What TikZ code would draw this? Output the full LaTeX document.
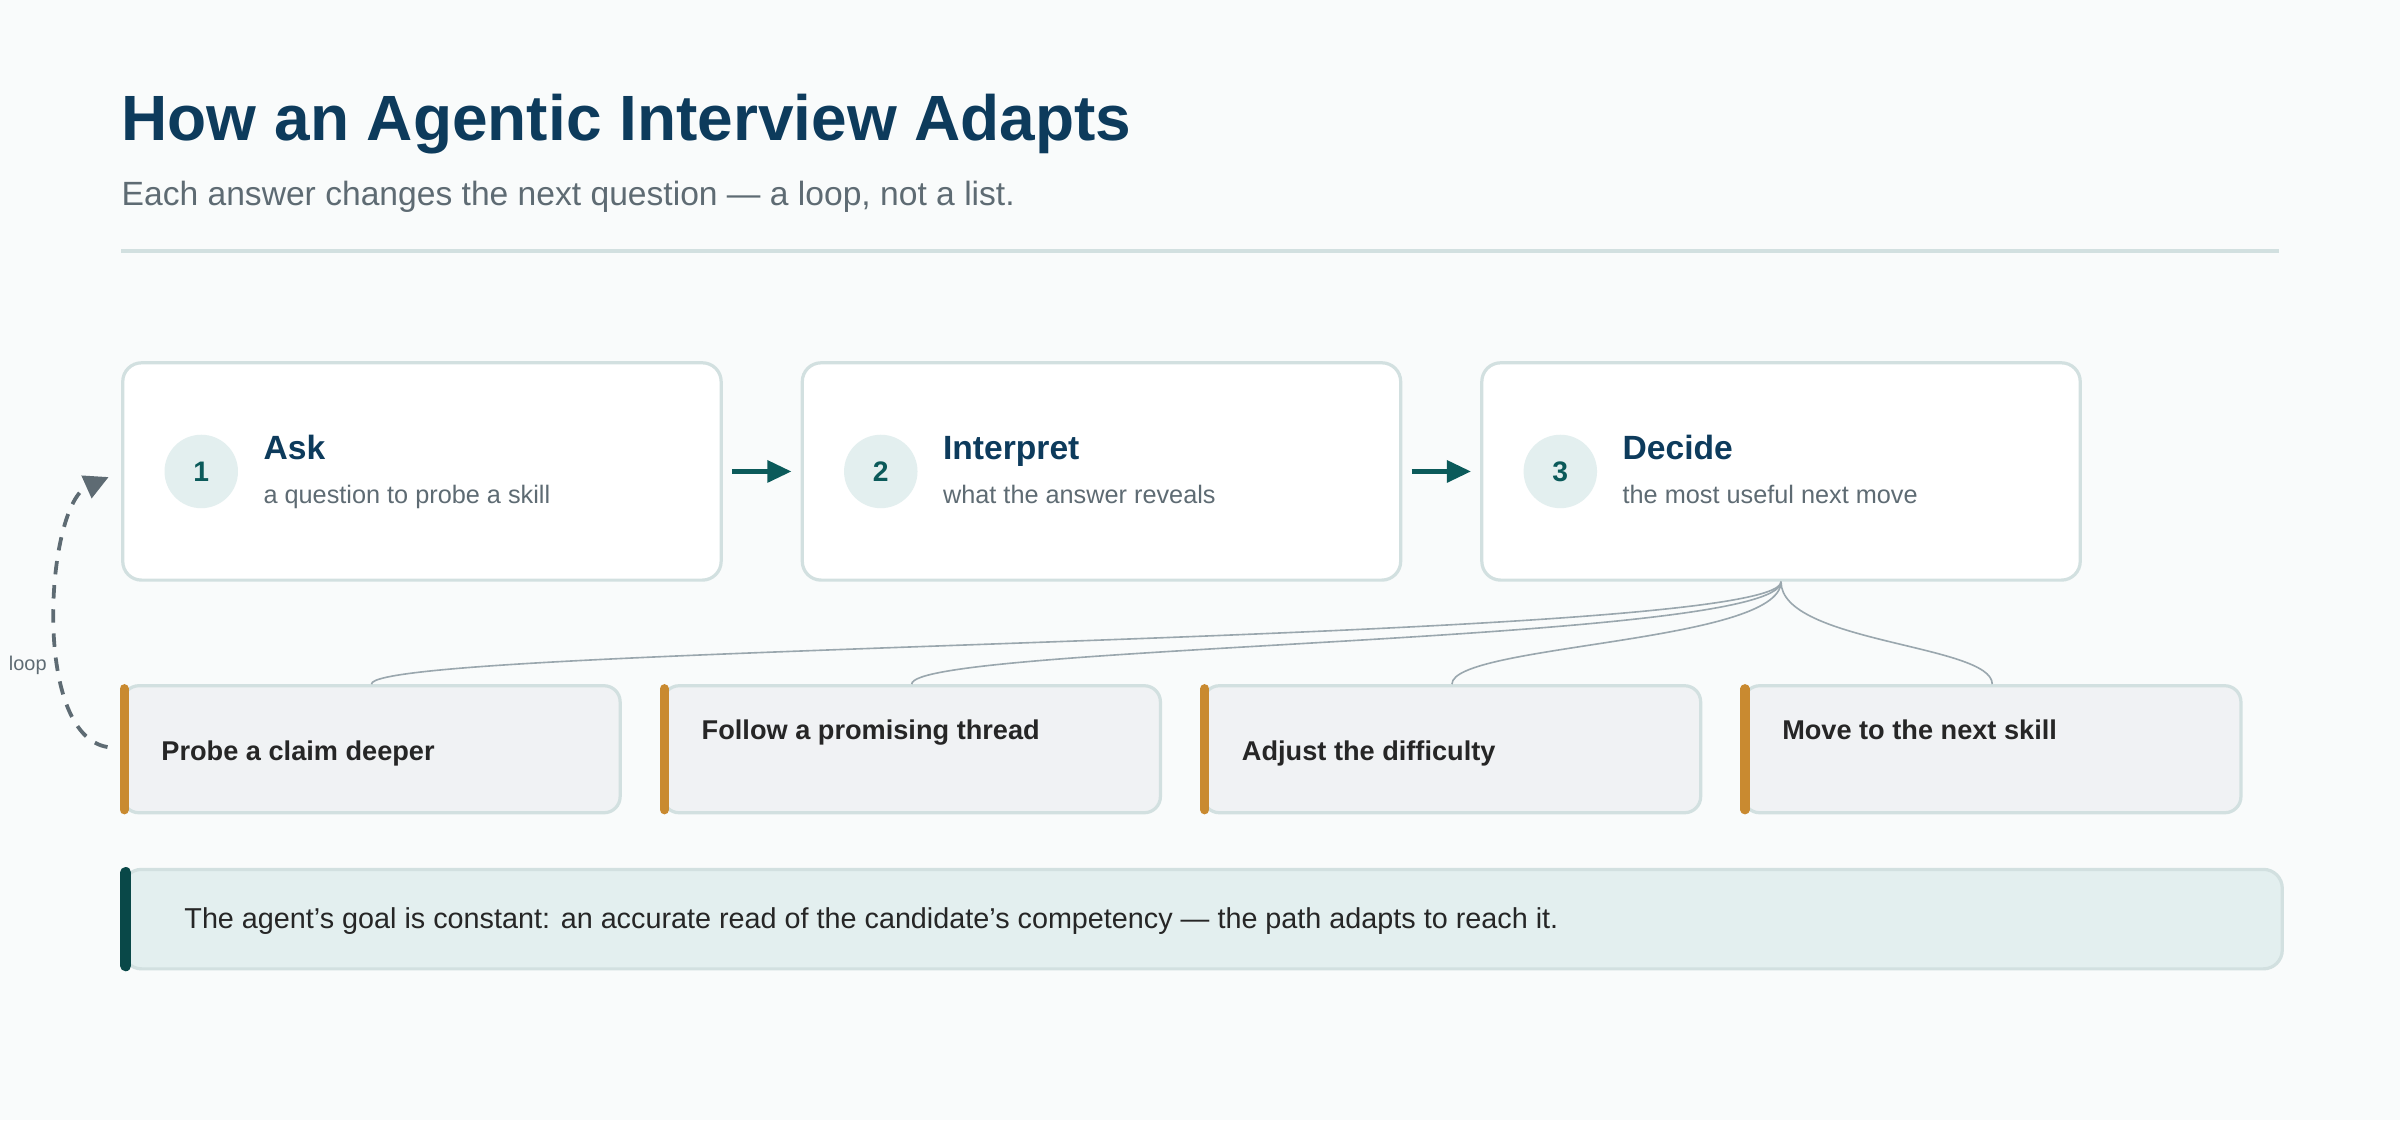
\documentclass[tikz,border=0pt]{standalone}
\usepackage{fontspec}
\setmainfont{Liberation Sans}
\usetikzlibrary{positioning,arrows.meta}
\definecolor{navy}{HTML}{0D3B5C}
\definecolor{deepteal}{HTML}{0B5A5A}
\definecolor{greytext}{HTML}{5E6B73}
\definecolor{edge}{HTML}{D2E0E0}
\definecolor{paper}{HTML}{F9FBFB}
\definecolor{optfill}{HTML}{F0F2F4}
\definecolor{amber}{HTML}{C98A30}
\definecolor{notefill}{HTML}{E3EFEF}
\definecolor{wire}{HTML}{9AA7AE}
\def\u{0.02cm}

\begin{document}
\begin{tikzpicture}[x=\u, y=-\u,
    stage/.style={draw=edge, line width=1.2pt, fill=white, rounded corners=7pt, anchor=north west, minimum width=391*\u, minimum height=142*\u},
    num/.style={circle, fill=notefill, text=deepteal, minimum size=48*\u, inner sep=0pt, font=\bfseries\fontsize{10.5}{12}\selectfont},
    option/.style={draw=edge, line width=1.2pt, fill=optfill, rounded corners=6pt, anchor=north west, minimum width=325*\u, minimum height=83*\u}]
    \tikzset{head/.style={anchor=base west, text=navy, font=\bfseries\fontsize{12.5}{14}\selectfont}}
    \tikzset{sub/.style={anchor=base west, text=greytext, font=\fontsize{9.4}{11}\selectfont}}
    \tikzset{optlabel/.style={anchor=base west, text=black!85, font=\bfseries\fontsize{10.1}{12}\selectfont}}
    \tikzset{flow/.style={draw=deepteal, line width=1.8pt, -{Triangle[length=9pt,width=8pt]}}}
    \tikzset{branch/.style={draw=wire, line width=0.6pt}}
    \fill[paper] (0,0) rectangle (1568,732);

    % heading
    \node[anchor=base west, text=navy, font=\bfseries\fontsize{23.8}{28}\selectfont, inner sep=0pt] (title) at (79,92) {How an Agentic Interview Adapts};
    \node[anchor=base west, text=greytext, font=\fontsize{12.5}{15}\selectfont, inner sep=0pt] (subtitle) at (79,134) {Each answer changes the next question — a loop, not a list.};
    \draw[edge, line width=1.2pt] (79,164) -- (1489,164);

    % stages
    \node[stage] (stage1) at (79,236) {};
    \node[stage] (stage2) at (523,236) {};
    \node[stage] (stage3) at (967,236) {};
    \foreach \s/\t/\d in {1/Ask/a question to probe a skill, 2/Interpret/what the answer reveals, 3/Decide/the most useful next move} {
    \node[num, right=28*\u of stage\s.west] (num\s) {\s};
    \node[head, inner sep=0pt] (head\s) at ([xshift=16*\u, yshift=8*\u]num\s.east) {\t};
    \node[sub, inner sep=0pt] (sub\s) at ([xshift=16*\u, yshift=-21*\u]num\s.east) {\d};
    }
    \draw[flow, shorten <=6*\u, shorten >=6*\u] (stage1) -- (stage2);
    \draw[flow, shorten <=6*\u, shorten >=6*\u] (stage2) -- (stage3);

    % options
    \node[option] (opt1) at (79,447) {};
    \node[option] (opt2) at (432,447) {};
    \node[option] (opt3) at (785,447) {};
    \node[option] (opt4) at (1138,447) {};
    \foreach \o in {1,...,4} {
    \draw[amber, line width=6*\u, line cap=round] ([xshift=2*\u, yshift=-3*\u]opt\o.north west) -- ([xshift=2*\u, yshift=3*\u]opt\o.south west);
    \draw[branch] (stage3.south) .. controls +(0,-40*\u) and +(0,26*\u) .. (opt\o.north);
    }
    \node[optlabel, inner sep=0pt] (lab1) at (105,497) {Probe a claim deeper};
    \node[optlabel, inner sep=0pt] (lab2) at (458,483) {Follow a promising thread};
    \node[optlabel, inner sep=0pt] (lab3) at (811,497) {Adjust the difficulty};
    \node[optlabel, inner sep=0pt] (lab4) at (1164,483) {Move to the next skill};

    % loop back
    \draw[greytext, line width=1.4pt, dash pattern=on 5pt off 4pt, -{Triangle[length=9pt,width=9pt]}, shorten <=9*\u, shorten >=9*\u] (opt1.west) .. controls (20,480) and (30,330) .. (stage1.west);
    \node[text=greytext, font=\fontsize{7.4}{9}\selectfont] (looplab) at (18,435) {loop};

    % note
    \node[draw=edge, line width=1.2pt, fill=notefill, rounded corners=7pt, anchor=north west, minimum width=1411*\u, minimum height=65*\u] (note) at (79,567) {};
    \draw[deepteal!80!black, line width=7*\u, line cap=round] ([xshift=3*\u, yshift=-3*\u]note.north west) -- ([xshift=3*\u, yshift=3*\u]note.south west);
    \node[anchor=base west, inner sep=0pt, text=black!85, font=\fontsize{10.7}{13}\selectfont] (notetext) at (120,607) {The agent’s goal is constant: an accurate read of the candidate’s competency — the path adapts to reach it.};
\end{tikzpicture}
\end{document}
